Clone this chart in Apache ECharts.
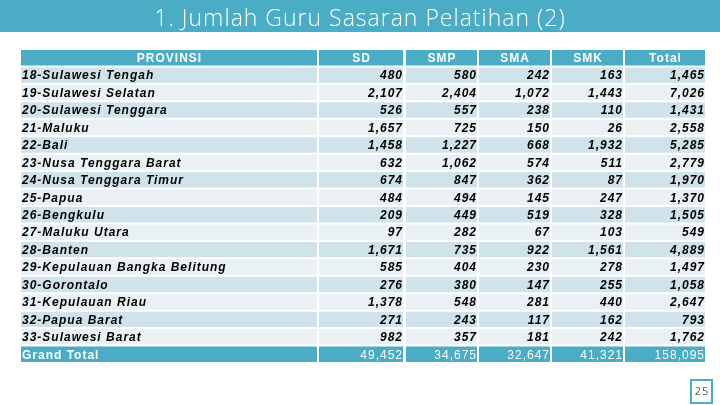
<!DOCTYPE html>
<html>
<head>
<meta charset="utf-8">
<script src="https://cdn.jsdelivr.net/npm/echarts@6/dist/echarts.min.js"></script>
<style>html,body{margin:0;padding:0;background:#fff}#c{width:720px;height:405px}</style>
</head>
<body>
<div id="c"></div>
<script>
// ---- data ----
var titleText = '1. Jumlah Guru Sasaran Pelatihan (2)';
var headers = ['PROVINSI', 'SD', 'SMP', 'SMA', 'SMK', 'Total'];
var provinces = ['18-Sulawesi Tengah','19-Sulawesi Selatan','20-Sulawesi Tenggara','21-Maluku','22-Bali',
  '23-Nusa Tenggara Barat','24-Nusa Tenggara Timur','25-Papua','26-Bengkulu','27-Maluku Utara','28-Banten',
  '29-Kepulauan Bangka Belitung','30-Gorontalo','31-Kepulauan Riau','32-Papua Barat','33-Sulawesi Barat'];
var totalLabel = 'Grand Total';
var sd    = [480, 2107, 526, 1657, 1458, 632, 674, 484, 209, 97, 1671, 585, 276, 1378, 271, 982];
var smp   = [580, 2404, 557, 725, 1227, 1062, 847, 494, 449, 282, 735, 404, 380, 548, 243, 357];
var sma   = [242, 1072, 238, 150, 668, 574, 362, 145, 519, 67, 922, 230, 147, 281, 117, 181];
var smk   = [163, 1443, 110, 26, 1932, 511, 87, 247, 328, 103, 1561, 278, 255, 440, 162, 242];
var total = [1465, 7026, 1431, 2558, 5285, 2779, 1970, 1370, 1505, 549, 4889, 1497, 1058, 2647, 793, 1762];
var grandTotals = [49452, 34675, 32647, 41321, 158095];
var pageNumber = '25';

// ---- rendering tweak: slight letter spacing like the original slide ----
(function(){
  var orig = HTMLCanvasElement.prototype.getContext;
  HTMLCanvasElement.prototype.getContext = function(type, opts){
    var ctx = orig.call(this, type, opts);
    if (type === '2d' && ctx && ('letterSpacing' in ctx)) { ctx.letterSpacing = '1px'; }
    return ctx;
  };
})();

// ---- layout / style ----
var TEAL = '#4BACC6';
var DARK = '#D0E3EA';
var LIGHT = '#E9F1F5';
var colLefts  = [21, 319, 406, 479, 552, 625];
var colRights = [317, 403, 477, 550, 623, 705];
var tableTop = 50, tableHeight = 314;
var FONT = '"Liberation Sans", Arial, sans-serif';

function fmt(v){ return Number(v).toLocaleString('en-US'); }

var rowKeys = ['h'].concat(provinces).concat(['gt']);
var numCols = [sd, smp, sma, smk, total];

var columns = [];
var c0 = [{value:[0,0], txt: headers[0]}];
provinces.forEach(function(p,i){ c0.push({value:[0,i+1], txt:p}); });
c0.push({value:[0,provinces.length+1], txt: totalLabel});
columns.push(c0);
numCols.forEach(function(arr, k){
  var c = [{value:[0,0], txt: headers[k+1]}];
  arr.forEach(function(v,i){ c.push({value:[0,i+1], txt: fmt(v)}); });
  c.push({value:[0,arr.length+1], txt: fmt(grandTotals[k])});
  columns.push(c);
});

var grids = [], xAxes = [], yAxes = [], series = [];
var lastRow = rowKeys.length - 1;
columns.forEach(function(col, ci){
  grids.push({left: colLefts[ci], top: tableTop, width: colRights[ci]-colLefts[ci], height: tableHeight});
  xAxes.push({type:'value', gridIndex: ci, min:0, max:1, show:false});
  yAxes.push({type:'category', gridIndex: ci, data: rowKeys, inverse:true, show:false, boundaryGap:true});
  series.push({
    type:'custom', xAxisIndex: ci, yAxisIndex: ci, encode:{x:0, y:1},
    data: col, silent:true,
    renderItem: function(params, api){
      var i = api.value(1);
      var pt = api.coord([0, i]);
      var bh = api.size([0, 1])[1];
      var cs = params.coordSys;
      var item = col[params.dataIndex];
      var isHead = i === 0, isTot = i === lastRow;
      var fill = (isHead || isTot) ? TEAL : ((i % 2 === 1) ? DARK : LIGHT);
      var y0 = pt[1] - bh/2;
      var align, tx;
      if (isHead) { align = 'center'; tx = cs.x + cs.width/2 + 0.5; }
      else if (ci === 0) { align = 'left'; tx = cs.x + 1; }
      else { align = 'right'; tx = cs.x + cs.width; }
      var font;
      if (isHead) font = 'bold 12px ' + FONT;
      else if (isTot) font = (ci === 0 ? 'bold ' : '') + '12px ' + FONT;
      else font = 'italic bold 12px ' + FONT;
      return {
        type:'group',
        children:[
          {type:'rect', shape:{x: cs.x, y: y0, width: cs.width, height: bh - 2}, style:{fill: fill}},
          {type:'text', style:{text: item.txt, x: tx, y: y0 + (bh-2)/2 + 1, align: align, verticalAlign:'middle',
            font: font, fill: (isHead || isTot) ? '#FFFFFF' : '#000000'}}
        ]
      };
    }
  });
});

var chart = echarts.init(document.getElementById('c'), null, {renderer:'canvas'});
chart.setOption({
  animation:false,
  backgroundColor:'#FFFFFF',
  title:{text: titleText, left:'center', top: 2,
    textStyle:{color:'#FFFFFF', fontSize:23, fontWeight:300, fontFamily:'"Open Sans", sans-serif'}},
  grid: grids, xAxis: xAxes, yAxis: yAxes, series: series,
  graphic:[
    {type:'rect', z:-1, shape:{x:0, y:0, width:720, height:32}, style:{fill: TEAL}},
    {type:'rect', shape:{x:691, y:380, width:21, height:23}, style:{fill:'#FFFFFF', stroke: TEAL, lineWidth:2}},
    {type:'text', style:{text: pageNumber, x: 702, y: 392, align:'center', verticalAlign:'middle',
      font:'11px "Open Sans", sans-serif', fill:'#595959'}}
  ]
});
</script>
</body>
</html>
